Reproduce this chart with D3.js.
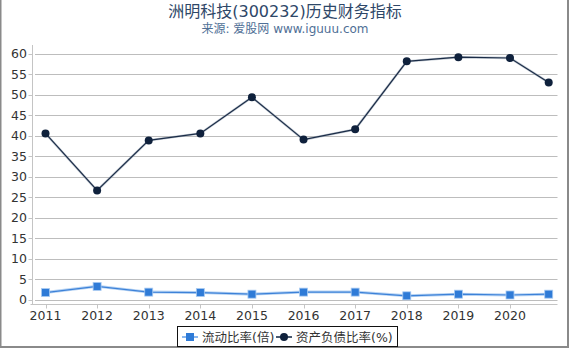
<!DOCTYPE html>
<html>
<head>
<meta charset="utf-8">
<script src="https://cdn.jsdelivr.net/npm/d3@7"></script>
<style>
  body { margin: 0; background: #fff; }
  svg { display: block; font-family: "DejaVu Sans", "Noto Sans CJK SC", sans-serif; }
</style>
</head>
<body>
<div id="chart"></div>
<script>
const years = [2011, 2012, 2013, 2014, 2015, 2016, 2017, 2018, 2019, 2020, 2020.75];
const tickYears = [2011, 2012, 2013, 2014, 2015, 2016, 2017, 2018, 2019, 2020];
const currentRatio = [1.7, 3.2, 1.8, 1.7, 1.3, 1.8, 1.8, 0.9, 1.3, 1.1, 1.3];
const debtRatio = [40.5, 26.6, 38.8, 40.5, 49.3, 39.0, 41.5, 58.1, 59.1, 58.9, 52.9];
const yTicks = d3.range(0, 61, 5);

const width = 570, height = 350;
const svg = d3.select("#chart").append("svg")
  .attr("width", width)
  .attr("height", height);

// outer frame
svg.append("rect")
  .attr("x", 0.5).attr("y", -2)
  .attr("width", 567.5).attr("height", 349)
  .attr("fill", "none")
  .attr("stroke", "#8a8a8a")
  .attr("stroke-width", 2);

svg.append("text")
  .attr("x", 285).attr("y", 17)
  .attr("text-anchor", "middle")
  .attr("font-size", 16)
  .attr("fill", "#2e4768")
  .text("洲明科技(300232)历史财务指标");

svg.append("text")
  .attr("x", 285).attr("y", 33)
  .attr("text-anchor", "middle")
  .attr("font-size", 12)
  .attr("fill", "#4f6f96")
  .text("来源: 爱股网 www.iguuu.com");

const x = d3.scaleLinear().domain([2011, 2020]).range([45.5, 510]);
const y = d3.scaleLinear().domain([0, 60]).range([299.5, 53.5]);
const plotLeft = 32.5, plotRight = 557.5, plotBottom = 304.5, plotTop = 45;

// grid
svg.append("g").selectAll("line")
  .data(yTicks)
  .join("line")
  .attr("x1", 35).attr("x2", plotRight)
  .attr("y1", d => Math.round(y(d)) + 0.5)
  .attr("y2", d => Math.round(y(d)) + 0.5)
  .attr("stroke", "#bdbdbd")
  .attr("stroke-width", 1);

// y axis
svg.append("line")
  .attr("x1", plotLeft).attr("x2", plotLeft)
  .attr("y1", plotTop).attr("y2", plotBottom)
  .attr("stroke", "#c4c4c4");
svg.append("g").selectAll("line")
  .data(yTicks)
  .join("line")
  .attr("x1", plotLeft - 4).attr("x2", plotLeft)
  .attr("y1", d => Math.round(y(d)) + 0.5)
  .attr("y2", d => Math.round(y(d)) + 0.5)
  .attr("stroke", "#c4c4c4");
svg.append("g").selectAll("text")
  .data(yTicks)
  .join("text")
  .attr("x", 27)
  .attr("y", d => y(d))
  .attr("dy", "0.36em")
  .attr("text-anchor", "end")
  .attr("font-size", 12.5)
  .attr("fill", "#333")
  .text(d => d);

// x axis
svg.append("line")
  .attr("x1", plotLeft - 2).attr("x2", plotRight)
  .attr("y1", plotBottom).attr("y2", plotBottom)
  .attr("stroke", "#c4c4c4");
svg.append("g").selectAll("line")
  .data(tickYears)
  .join("line")
  .attr("x1", d => Math.round(x(d)) + 0.5)
  .attr("x2", d => Math.round(x(d)) + 0.5)
  .attr("y1", plotBottom).attr("y2", plotBottom + 4)
  .attr("stroke", "#c4c4c4");
svg.append("g").selectAll("text")
  .data(tickYears)
  .join("text")
  .attr("x", d => x(d))
  .attr("y", 319.5)
  .attr("text-anchor", "middle")
  .attr("font-size", 12.5)
  .attr("fill", "#333")
  .text(d => d);

const line = d3.line().x(d => x(d[0])).y(d => y(d[1]));

// current ratio series
const s1 = years.map((yr, i) => [yr, currentRatio[i]]);
svg.append("path")
  .attr("d", line(s1))
  .attr("fill", "none")
  .attr("stroke", "#b8d4f4")
  .attr("stroke-width", 3);
svg.append("path")
  .attr("d", line(s1))
  .attr("fill", "none")
  .attr("stroke", "#3d82d8")
  .attr("stroke-width", 1.2);
svg.append("g").selectAll("rect")
  .data(s1)
  .join("rect")
  .attr("x", d => x(d[0]) - 4)
  .attr("y", d => y(d[1]) - 4)
  .attr("width", 8).attr("height", 8)
  .attr("fill", "#2f7bd7")
  .attr("stroke", "#a9cbf2")
  .attr("stroke-width", 0.8);

// debt ratio series
const s2 = years.map((yr, i) => [yr, debtRatio[i]]);
svg.append("path")
  .attr("d", line(s2))
  .attr("fill", "none")
  .attr("stroke", "#9aa6b6")
  .attr("stroke-width", 2.4)
  .attr("opacity", 0.6);
svg.append("path")
  .attr("d", line(s2))
  .attr("fill", "none")
  .attr("stroke", "#1b2c47")
  .attr("stroke-width", 1.2);
svg.append("g").selectAll("circle")
  .data(s2)
  .join("circle")
  .attr("cx", d => x(d[0]))
  .attr("cy", d => y(d[1]))
  .attr("r", 4)
  .attr("fill", "#0f213c");

// legend
const lg = svg.append("g");
lg.append("rect")
  .attr("x", 177.5).attr("y", 326.5)
  .attr("width", 220).attr("height", 20)
  .attr("fill", "#fff")
  .attr("stroke", "#111");
lg.append("line")
  .attr("x1", 182).attr("x2", 198).attr("y1", 337).attr("y2", 337)
  .attr("stroke", "#8cb8ee").attr("stroke-width", 2);
lg.append("rect")
  .attr("x", 186).attr("y", 333).attr("width", 8).attr("height", 8)
  .attr("fill", "#2f7bd7");
lg.append("text")
  .attr("x", 202).attr("y", 341.5)
  .attr("font-size", 12.5).attr("fill", "#333")
  .text("流动比率(倍)");
lg.append("line")
  .attr("x1", 276).attr("x2", 292).attr("y1", 337).attr("y2", 337)
  .attr("stroke", "#4a5a70").attr("stroke-width", 2);
lg.append("circle")
  .attr("cx", 284).attr("cy", 337).attr("r", 4)
  .attr("fill", "#0f213c");
lg.append("text")
  .attr("x", 296).attr("y", 341.5)
  .attr("font-size", 12.5).attr("fill", "#333")
  .text("资产负债比率(%)");
</script>
</body>
</html>
